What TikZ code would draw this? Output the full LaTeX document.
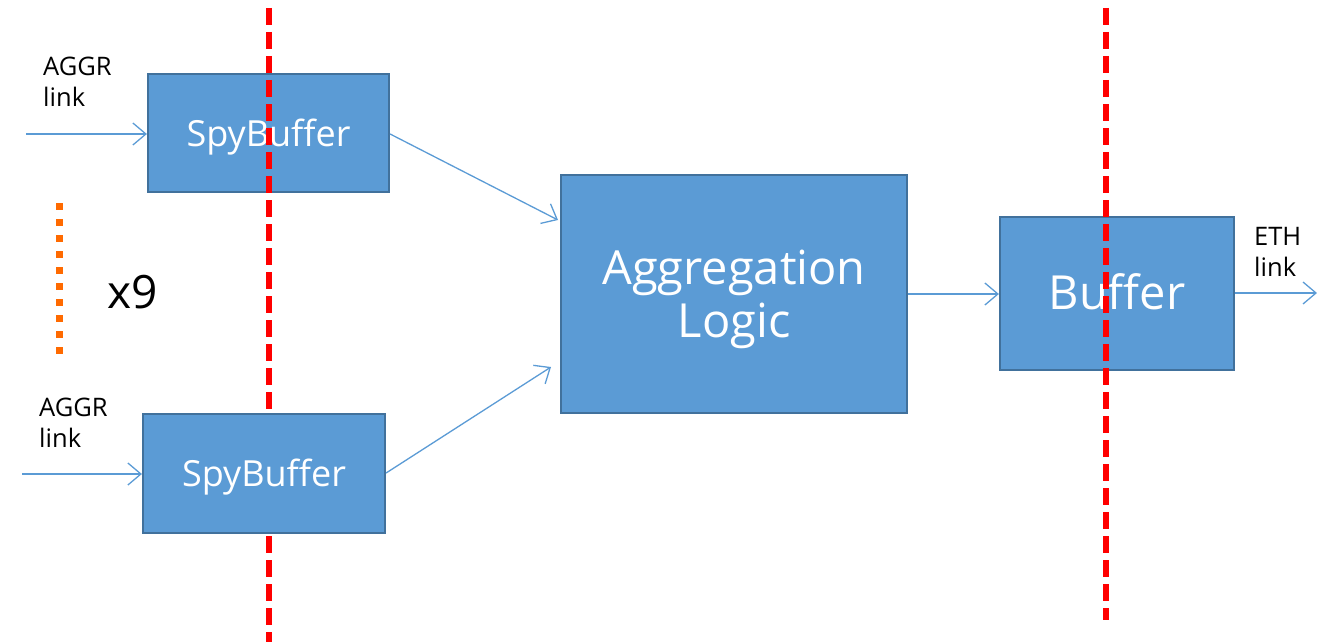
\documentclass[tikz,border=0pt]{standalone}
\usepackage{fontspec}
\setmainfont{Open Sans}
\usetikzlibrary{arrows.meta}
\definecolor{boxfill}{HTML}{5B9BD5}
\definecolor{boxline}{HTML}{41719C}
\definecolor{cutred}{HTML}{FF0000}
\definecolor{dotorange}{HTML}{FF6A00}
\newcommand{\shifttext}[2]{\raisebox{#1}[\height][\depth]{#2}}
\tikzset{
  block/.style={draw=boxline, fill=boxfill, line width=2.2pt, text=white, inner sep=0pt, align=center},
  link/.style={draw=boxfill, line width=1.3pt, -{Straight Barb[length=13pt, width=22pt, line width=1.3pt]}},
  cut/.style={draw=cutred, line width=6pt, dash pattern=on 17pt off 7pt},
  lbl/.style={anchor=north west, align=left, inner sep=0pt, font=\fontsize{25.5}{31}\selectfont}
}
\begin{document}
\begin{tikzpicture}[x=1pt, y=-1pt]
  \useasboundingbox (0,0) rectangle (1317,642);
  % upper spy buffer, aggregation and output buffer
  \node[block, minimum width=241pt, minimum height=118pt, font=\fontsize{36}{40}\selectfont] (sb1) at (268.5,133) {\shifttext{-4pt}{SpyBuffer}};
  \node[block, minimum width=346pt, minimum height=238pt, font=\fontsize{47}{57}\selectfont] (agg) at (734,294) {\shifttext{-5.5pt}{\shortstack{Aggregation\\[4pt]Logic}}};
  \node[block, minimum width=234pt, minimum height=153pt, font=\fontsize{47}{52}\selectfont] (buf) at (1117,293.5) {\shifttext{2pt}{Buffer}};
  % partition boundaries
  \coordinate (c1t) at (269,8);
  \coordinate (c1b) at (269,642);
  \coordinate (c2t) at (1106,8);
  \coordinate (c2b) at (1106,620);
  \draw[cut] (c1t) -- (c1b);
  \draw[cut] (c2t) -- (c2b);
  % lower spy buffer sits over the boundary
  \node[block, minimum width=242pt, minimum height=119pt, font=\fontsize{36}{40}\selectfont] (sb2) at (264,473.5) {\shifttext{-4pt}{SpyBuffer}};
  % inputs and outputs
  \coordinate (in1) at (26,134);
  \coordinate (in2) at (22,474);
  \coordinate (out) at (1317,293);
  \draw[link] (in1) -- (sb1.west |- in1);
  \draw[link] (in2) -- (sb2.west |- in2);
  \draw[link] (sb1.east |- 0,134) -- (558,220);
  \draw[link] (sb2.east |- 0,473) -- (551,367);
  \draw[link] (agg.east |- 0,294) -- (buf.west |- 0,294);
  \draw[link] (buf.east |- out) -- (out);
  % labels
  \node[lbl] (l1) at (43,57) {AGGR\\link};
  \node[lbl] (l2) at (39,398) {AGGR\\link};
  \node[lbl] (l3) at (1254,227) {ETH\\link};
  % replication marker
  \coordinate (d1) at (59,203);
  \coordinate (d2) at (59,356);
  \draw[draw=dotorange, line width=7pt, dash pattern=on 7pt off 9pt] (d1) -- (d2);
  \node[anchor=west, inner sep=0pt, font=\fontsize{46}{50}\selectfont] (x9) at (107,292) {x9};
\end{tikzpicture}
\end{document}
